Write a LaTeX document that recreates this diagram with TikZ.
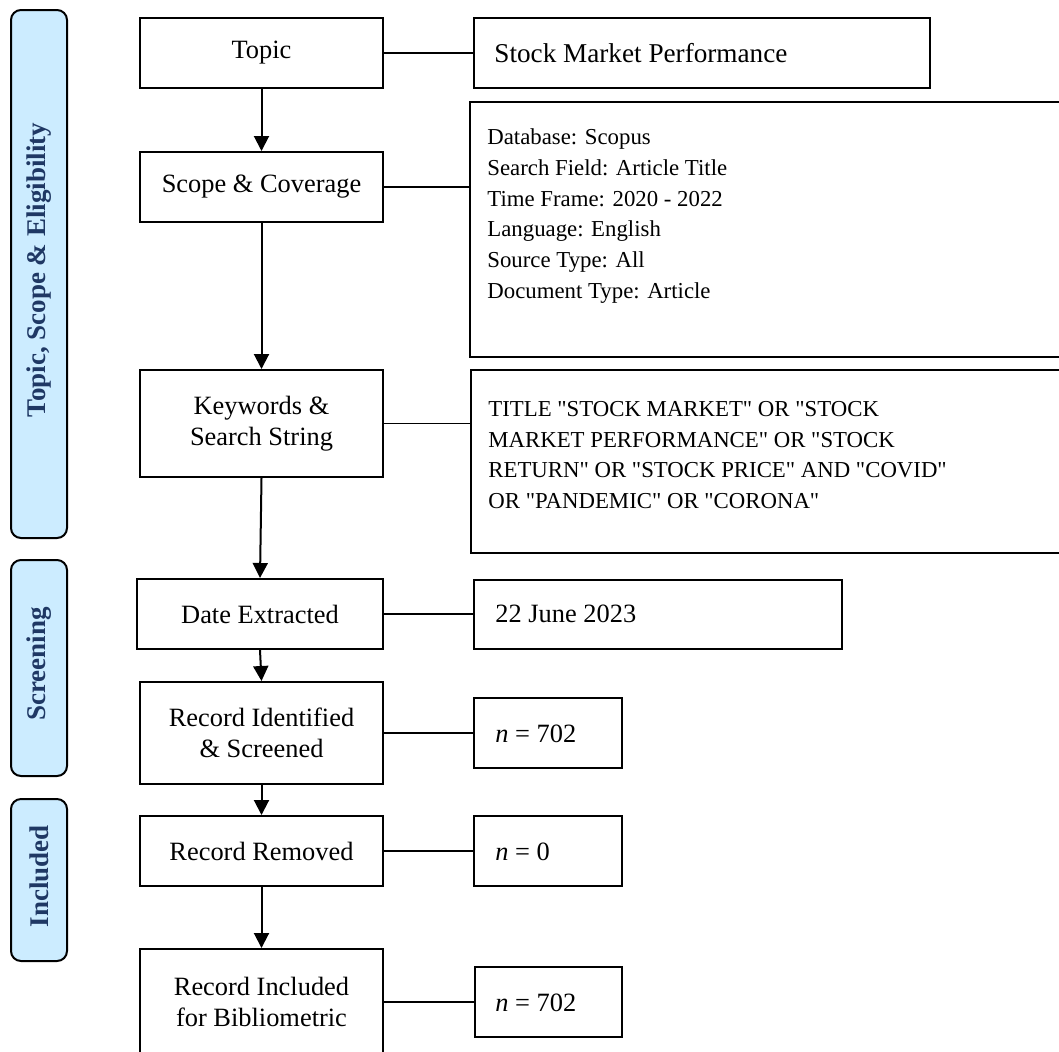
\documentclass[tikz,border=0pt]{standalone}
\usepackage{fontspec}
\setmainfont{Liberation Serif}[Ligatures=TeXOff]
\usetikzlibrary{arrows.meta}
\definecolor{sidefill}{HTML}{CCECFF}
\definecolor{sidetext}{HTML}{1F3864}
\begin{document}
\begin{tikzpicture}[x=0.5pt,y=-0.5pt,
  every node/.style={font=\fontsize{13.2}{15.3}\selectfont},
  box/.style={draw, line width=1pt, inner sep=0pt, align=center},
  side/.style={draw, line width=1pt, fill=sidefill, rounded corners=5pt, inner sep=0pt},
  sidelabel/.style={rotate=90, inner sep=0pt, text=sidetext, font=\fontsize{13.5}{15.3}\selectfont\bfseries},
  link/.style={line width=0.9pt},
  flow/.style={line width=1pt, -{Triangle[length=7.5pt,width=7.5pt]}},
  txt/.style={anchor=west, align=left, inner sep=0pt},
  small/.style={font=\fontsize{11.4}{15.4}\selectfont}
]
\useasboundingbox (0,0) rectangle (1059,1051);
\clip (0,0) rectangle (1059,1051);

% side bars
\node[side, minimum width=28pt, minimum height=264pt] (b1) at (39,274) {};
\node[sidelabel, xshift=2pt] (b1t) at (b1.center) {Topic, Scope \& Eligibility};
\node[side, minimum width=28pt, minimum height=108pt] (b2) at (39,668) {};
\node[sidelabel, xshift=2pt] (b2t) at (b2.center) {Screening};
\node[side, minimum width=28pt, minimum height=81pt] (b3) at (39,880) {};
\node[sidelabel, xshift=2pt] (b3t) at (b3.center) {Included};

% left column
\node[box, minimum width=121.5pt, minimum height=35pt] (topic) at (261.5,53) {Topic};
\node[box, minimum width=121.5pt, minimum height=35pt] (scope) at (261.5,187) {Scope \& Coverage};
\node[box, minimum width=121.5pt, minimum height=53.5pt] (kw) at (261.5,423.5) {Keywords \&\\Search String};
\node[box, minimum width=123pt, minimum height=35pt] (de) at (260,614) {Date Extracted};
\node[box, minimum width=121.5pt, minimum height=51pt] (ri) at (261.5,733) {Record Identified\\\& Screened};
\node[box, minimum width=121.5pt, minimum height=35pt] (rr) at (261.5,851) {Record Removed};
\node[box, minimum width=121.5pt, minimum height=53pt] (inc) at (261.5,1002) {Record Included\\for Bibliometric};

% right column
\node[box, minimum width=228pt, minimum height=35pt] (smp) at (702,53) {};
\node[txt, font=\fontsize{13.6}{16}\selectfont] (smpt) at (494,53) {Stock Market Performance};

\node[box, minimum width=302.5pt, minimum height=127.5pt] (db) at (772.5,229.5) {};
\node[txt, small] (dbt) at (487,216) {Database: Scopus\\Search Field: Article Title\\Time Frame: 2020 - 2022\\Language: English\\Source Type: All\\Document Type: Article};

\node[box, minimum width=302pt, minimum height=91.5pt] (title) at (773,461.5) {};
\node[txt, small] (titlet) at (488,455) {TITLE "STOCK MARKET" OR "STOCK\\MARKET PERFORMANCE" OR "STOCK\\RETURN" OR "STOCK PRICE" AND "COVID"\\OR "PANDEMIC" OR "CORONA"};

\node[box, minimum width=184pt, minimum height=34.5pt] (date) at (658,614.5) {};
\node[txt] (datet) at (495,614) {22 June 2023};

\node[box, minimum width=74pt, minimum height=35pt] (n1) at (548,733) {};
\node[txt] (n1t) at (495,734) {\textit{n} = 702};

\node[box, minimum width=74pt, minimum height=35pt] (n0) at (548,851) {};
\node[txt] (n0t) at (495,852) {\textit{n} = 0};

\node[box, minimum width=73.5pt, minimum height=35pt] (n2) at (548.5,1002) {};
\node[txt] (n2t) at (495,1003) {\textit{n} = 702};

% horizontal links
\draw[link] (topic.east) -- (smp.west);
\draw[link] (scope.east) -- (scope.east -| db.west);
\draw[link] (kw.east) -- (kw.east -| title.west);
\draw[link] (de.east) -- (de.east -| date.west);
\draw[link] (ri.east) -- (n1.west);
\draw[link] (rr.east) -- (n0.west);
\draw[link] (inc.east) -- (n2.west);

% flow arrows
\draw[flow] (topic.south) -- (scope.north);
\draw[flow] (scope.south) -- (kw.north);
\draw[flow] (kw.south) -- (de.north);
\draw[flow] (de.south) -- (ri.north);
\draw[flow] (ri.south) -- (rr.north);
\draw[flow] (rr.south) -- (inc.north);
\end{tikzpicture}
\end{document}
